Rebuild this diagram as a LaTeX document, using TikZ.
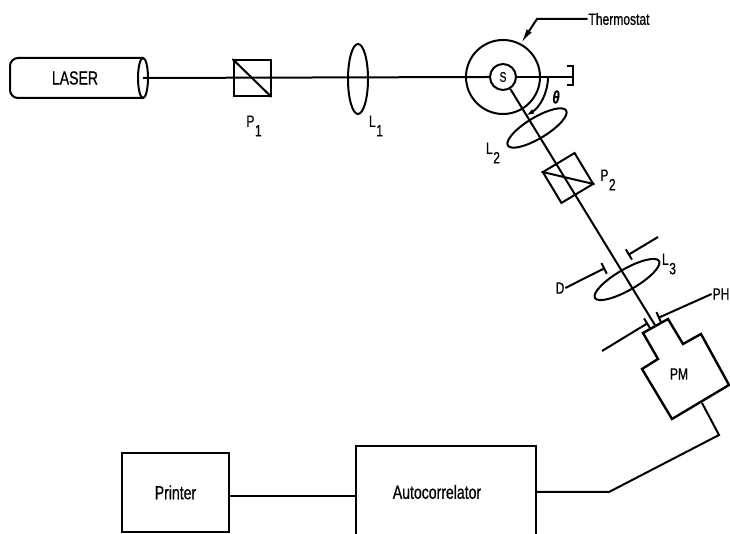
\documentclass[tikz,border=0pt]{standalone}
\usepackage{fontspec}
\setmainfont[FakeStretch=0.74,FakeBold=0.7]{Liberation Sans}
\usetikzlibrary{arrows.meta,shapes.geometric}
\newcommand{\lab}[2]{#1\raisebox{-1.1ex}{\hspace{.5pt}#2}}
\begin{document}
\begin{tikzpicture}[
  x=1pt,y=1pt,
  every path/.style={line width=2pt},
  txt/.style={font=\fontsize{16.3}{18}\selectfont,inner sep=0pt},
  bigtxt/.style={font=\fontsize{19}{21}\selectfont,inner sep=0pt},
  block/.style={draw,line width=2.4pt,inner sep=0pt,bigtxt},
  lens/.style={draw,ellipse,inner sep=0pt},
  cube/.style={draw,inner sep=0pt,minimum width=37pt,minimum height=36pt},
  aper/.style={-{Bar[width=12pt,length=2pt]}},
  leader/.style={-{Latex[length=15pt,width=6pt]}}]
\useasboundingbox (0,0) rectangle (730,534);
\node[lens,minimum width=10pt,minimum height=40pt] (laserend) at (143,456) {};
\draw[rounded corners=8pt] (143,476)--(10,476)--(10,436)--(143,436);
\node[bigtxt] (laser) at (75,456) {LASER};
\node[cube] (p1) at (252,456) {};
\draw (p1.north west)--(p1.south east);
\node[lens,minimum width=20pt,minimum height=70pt] (l1) at (358,455) {};
\node[draw,circle,inner sep=0pt,minimum size=74pt] (thermo) at (503,457) {};
\node[draw,circle,fill=white,inner sep=0pt,minimum size=26pt,font=\fontsize{14}{16}\selectfont] (s) at (503,457) {S};
\draw (laserend.center)--(s.west);
\coordinate (stop) at (573,457);
\draw (s.east)--(stop);
\draw (567,468)--(573,468)--(573,449)--(567,449);
\node[lens,rotate=31,minimum width=68pt,minimum height=21pt] (l2) at (537,406) {};
\node[cube,rotate=31] (p2) at (568,356) {};
\draw (p2.north west)--(p2.south east);
\node[lens,rotate=30,minimum width=74pt,minimum height=21pt] (l3) at (627,254.5) {};
\coordinate (neck) at (655.5,208);
\draw (s)--(neck);
\draw[-{Latex[length=8pt,width=5pt]}] (548,457) arc[start angle=0,end angle=-59,radius=45pt];
\node[txt,font=\fontsize{18}{20}\selectfont\bfseries\itshape] (theta) at (556,437) {θ};
\node[txt] (thermotxt) at (619,515) {Thermostat};
\coordinate (bend) at (537,515);
\draw[leader] (thermotxt.west)--(bend)--(thermo.62);
\node[txt] (p1lab) at (254,408) {\lab{P}{1}};
\node[txt] (l1lab) at (376,408) {\lab{L}{1}};
\node[txt] (l2lab) at (493,381) {\lab{L}{2}};
\node[txt] (p2lab) at (608,354) {\lab{P}{2}};
\node[txt] (l3lab) at (669,270) {\lab{L}{3}};
\node[txt] (dlab) at (560,246) {D};
\node[txt] (phlab) at (721,240) {PH};
\coordinate (da) at (605,266);
\coordinate (db) at (628,279);
\coordinate (dc) at (658,297);
\coordinate (pa) at (602,183);
\coordinate (pb) at (648,211);
\coordinate (pc) at (658,216);
\draw[aper] (dlab.east)--(da);
\draw[aper] (dc)--(db);
\draw[aper] (pa)--(pb);
\draw[aper] (phlab.west)--(pc);
\draw[line width=2.4pt] (643,201)--(668,215)--(683,190)--(701,200)--(729,149)--(672,115)--(642,165)--(658,175)--cycle;
\node[txt] (pm) at (679,160) {PM};
\node[block,minimum width=107pt,minimum height=79pt] (printer) at (175.5,41.5) {Printer};
\node[block,minimum width=180pt,minimum height=92pt,
      label={[bigtxt,xshift=-9pt]center:Autocorrelator}] (autoc) at (446,42) {};
\draw ([yshift=-3.5pt]printer.east)--([yshift=-3.5pt]printer.east-|autoc.west);
\coordinate (pmout) at (702,131);
\draw (autoc.east)--(609,42)--(719,99)--(pmout);
\end{tikzpicture}
\end{document}
